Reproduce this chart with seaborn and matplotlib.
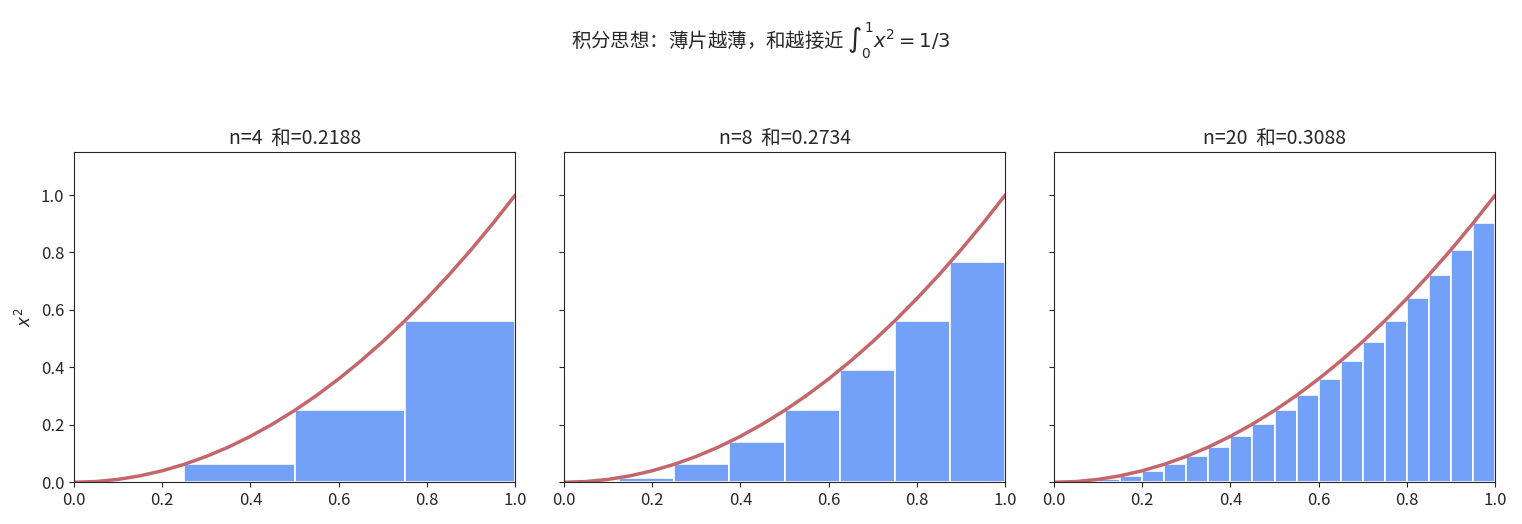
import matplotlib
matplotlib.use("Agg")
import matplotlib.pyplot as plt
import seaborn as sns
import numpy as np

sns.set_style("ticks")
plt.rcParams['font.family'] = ['Noto Sans CJK SC', 'DejaVu Sans']
plt.rcParams['axes.unicode_minus'] = False
plt.rcParams['mathtext.fontset'] = 'dejavusans'

ns = [4, 8, 20]
sums = ["0.2188", "0.2734", "0.3088"]
heights4 = [0.0, 0.0625, 0.25, 0.5625]
heights8 = [0.0, 0.015625, 0.0625, 0.140625, 0.25, 0.390625, 0.5625, 0.765625]
heights20 = [0.0, 0.0025, 0.01, 0.0225, 0.04, 0.0625, 0.09, 0.1225, 0.16, 0.2025,
             0.25, 0.3025, 0.36, 0.4225, 0.49, 0.5625, 0.64, 0.7225, 0.81, 0.9025]
curve_x = [0.0, 0.05, 0.1, 0.15, 0.2, 0.25, 0.3, 0.35, 0.4, 0.45, 0.5, 0.55, 0.6,
           0.65, 0.7, 0.75, 0.8, 0.85, 0.9, 0.95, 1.0]
curve_y = [0.0, 0.0025, 0.01, 0.0225, 0.04, 0.0625, 0.09, 0.1225, 0.16, 0.2025, 0.25,
           0.3025, 0.36, 0.4225, 0.49, 0.5625, 0.64, 0.7225, 0.81, 0.9025, 1.0]
all_heights = [heights4, heights8, heights20]

fig, axes = plt.subplots(1, 3, figsize=(15.22, 5.24), dpi=100, sharey=True)
for ax, n, s, h in zip(axes, ns, sums, all_heights):
    mids = [(i + 0.5) / n for i in range(n)]
    sns.histplot(x=mids, weights=h, bins=n, binrange=(0, 1), ax=ax,
                 color="#6f9ef8", alpha=0.97, edgecolor="white", linewidth=1.2)
    sns.lineplot(x=curve_x, y=curve_y, ax=ax, color="#c4666b", linewidth=2.5)
    ax.set_xlim(0, 1)
    ax.set_ylim(0, 1.15)
    ax.set_title(f"n={n}  和={s}", fontsize=14)
    ax.set_xlabel("")
    ax.set_ylabel("")
    ax.tick_params(labelsize=12)
axes[0].set_ylabel("$x^2$", fontsize=12)
fig.suptitle(r"积分思想：薄片越薄，和越接近 $\int_0^1 x^2=1/3$", fontsize=14, y=0.96)
fig.tight_layout(rect=(0, 0, 1, 0.97))
fig.subplots_adjust(top=0.71, wspace=0.11)
fig.savefig("out.png", dpi=100)
